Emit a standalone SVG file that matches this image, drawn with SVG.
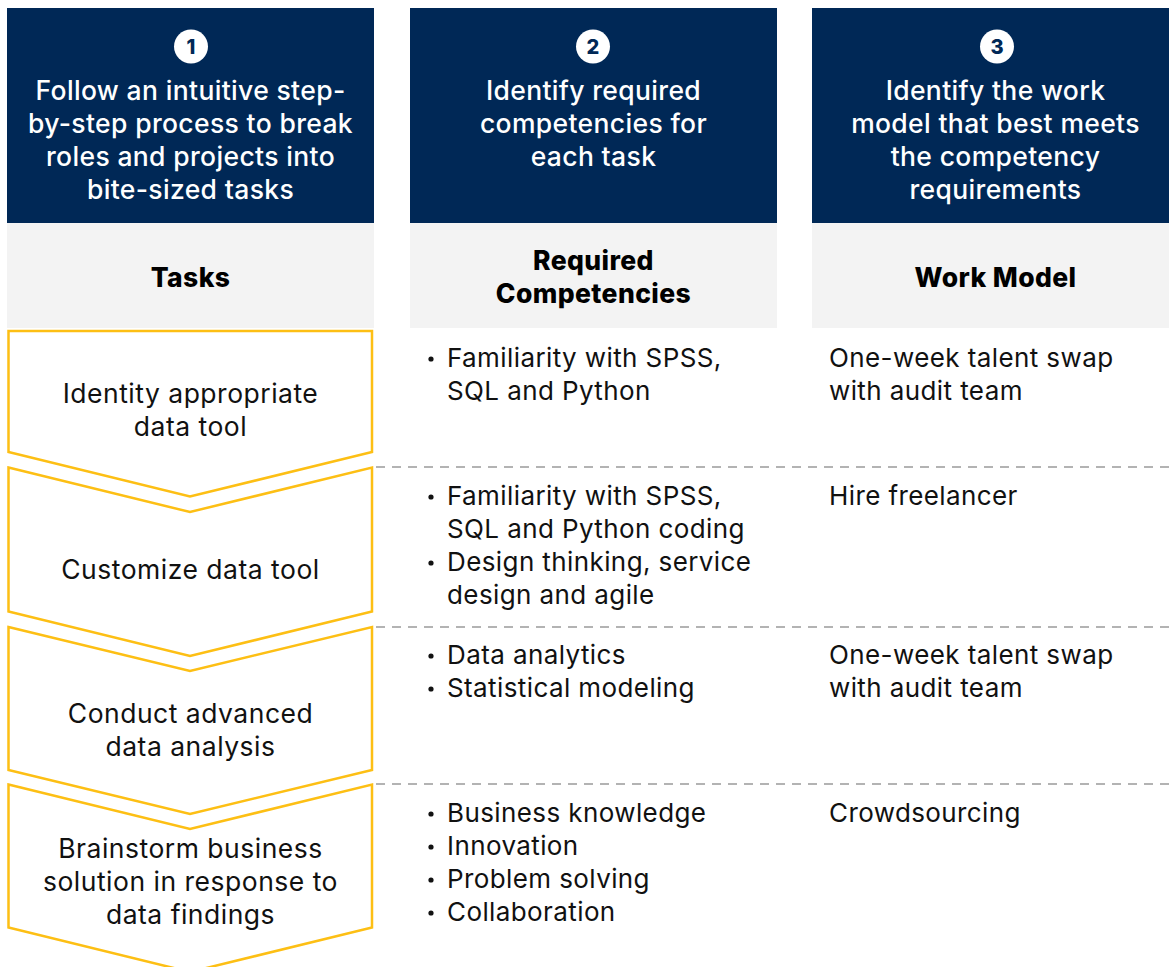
<svg xmlns="http://www.w3.org/2000/svg" width="1169" height="967" viewBox="0 0 1169 967">
  <style>
    .hdr { fill: #002856; }
    .band { fill: #f3f3f3; }
    .num-c { fill: #ffffff; }
    .num-t { font-family: Inter, "Liberation Sans", sans-serif; font-weight: 800; font-size: 20px; fill: #002856; text-anchor: middle; }
    .hdr-t { font-family: Inter, "Liberation Sans", sans-serif; font-weight: 500; font-size: 26.5px; letter-spacing: 0.35px; fill: #ffffff; text-anchor: middle; }
    .band-t { font-family: Inter, "Liberation Sans", sans-serif; font-weight: 800; font-size: 26.5px; letter-spacing: 0.4px; fill: #000000; text-anchor: middle; }
    .chev { fill: #ffffff; stroke: #fdbf14; stroke-width: 2.5; stroke-linejoin: miter; }
    .task-t { font-family: Inter, "Liberation Sans", sans-serif; font-weight: 400; font-size: 26.5px; letter-spacing: 0.5px; fill: #111111; text-anchor: middle; }
    .body-t { font-family: Inter, "Liberation Sans", sans-serif; font-weight: 400; font-size: 26px; letter-spacing: 0.4px; fill: #111111; }
    .bullet { fill: #111111; }
    .sep { stroke: #9a9a9a; stroke-width: 1.5; stroke-dasharray: 9 7; fill: none; }
  </style>
  <defs>
    <circle id="dot" r="2.6" class="bullet"/>
  </defs>

  <rect width="1169" height="967" fill="#ffffff"/>

  <!-- Column 1 header -->
  <g id="col-tasks-header">
    <rect class="hdr" x="7" y="8" width="367" height="215"/>
    <circle class="num-c" cx="191" cy="46.5" r="17"/>
    <text class="num-t" x="191" y="53.5">1</text>
    <text class="hdr-t" x="190.5" y="100">Follow an intuitive step-</text>
    <text class="hdr-t" x="190.5" y="133">by-step process to break</text>
    <text class="hdr-t" x="190.5" y="166">roles and projects into</text>
    <text class="hdr-t" x="190.5" y="199">bite-sized tasks</text>
    <rect class="band" x="7" y="223" width="367" height="105"/>
    <text class="band-t" x="190.5" y="287">Tasks</text>
  </g>

  <!-- Column 2 header -->
  <g id="col-competencies-header">
    <rect class="hdr" x="410" y="8" width="367" height="215"/>
    <circle class="num-c" cx="593" cy="46.5" r="17"/>
    <text class="num-t" x="593" y="53.5">2</text>
    <text class="hdr-t" x="593.5" y="100">Identify required</text>
    <text class="hdr-t" x="593.5" y="133">competencies for</text>
    <text class="hdr-t" x="593.5" y="166">each task</text>
    <rect class="band" x="410" y="223" width="367" height="105"/>
    <text class="band-t" x="593.5" y="270">Required</text>
    <text class="band-t" x="593.5" y="303">Competencies</text>
  </g>

  <!-- Column 3 header -->
  <g id="col-workmodel-header">
    <rect class="hdr" x="812" y="8" width="357" height="215"/>
    <circle class="num-c" cx="997" cy="46.5" r="17"/>
    <text class="num-t" x="997" y="53.5">3</text>
    <text class="hdr-t" x="995.5" y="100">Identify the work</text>
    <text class="hdr-t" x="995.5" y="133">model that best meets</text>
    <text class="hdr-t" x="995.5" y="166">the competency</text>
    <text class="hdr-t" x="995.5" y="199">requirements</text>
    <rect class="band" x="812" y="223" width="357" height="105"/>
    <text class="band-t" x="995.5" y="287">Work Model</text>
  </g>

  <!-- Row separators -->
  <g id="connectors">
    <line class="sep" x1="376" y1="467" x2="1169" y2="467"/>
    <line class="sep" x1="376" y1="627" x2="1169" y2="627"/>
    <line class="sep" x1="376" y1="784" x2="1169" y2="784"/>
  </g>

  <!-- Task chevrons -->
  <g id="task-1">
    <path class="chev" d="M8.5,331 H372 V452 L190,496.5 L8.5,452 Z"/>
    <text class="task-t" x="190.5" y="403">Identity appropriate</text>
    <text class="task-t" x="190.5" y="436">data tool</text>
  </g>
  <g id="task-2">
    <path class="chev" d="M8.5,467.5 L190,512 L372,467.5 V611.5 L190,656 L8.5,611.5 Z"/>
    <text class="task-t" x="190.5" y="579">Customize data tool</text>
  </g>
  <g id="task-3">
    <path class="chev" d="M8.5,627 L190,671 L372,627 V770 L190,814 L8.5,770 Z"/>
    <text class="task-t" x="190.5" y="723">Conduct advanced</text>
    <text class="task-t" x="190.5" y="756">data analysis</text>
  </g>
  <g id="task-4">
    <path class="chev" d="M8.5,784.5 L190,829 L372,784.5 V927.5 L190,972 L8.5,927.5 Z"/>
    <text class="task-t" x="190.5" y="858">Brainstorm business</text>
    <text class="task-t" x="190.5" y="891">solution in response to</text>
    <text class="task-t" x="190.5" y="924">data findings</text>
  </g>

  <!-- Required competencies -->
  <g id="competencies-1">
    <use href="#dot" x="431" y="359"/>
    <text class="body-t" x="447" y="367">Familiarity with SPSS,</text>
    <text class="body-t" x="447" y="400">SQL and Python</text>
  </g>
  <g id="competencies-2">
    <use href="#dot" x="431" y="497"/>
    <text class="body-t" x="447" y="505">Familiarity with SPSS,</text>
    <text class="body-t" x="447" y="538">SQL and Python coding</text>
    <use href="#dot" x="431" y="563"/>
    <text class="body-t" x="447" y="571">Design thinking, service</text>
    <text class="body-t" x="447" y="604">design and agile</text>
  </g>
  <g id="competencies-3">
    <use href="#dot" x="431" y="656"/>
    <text class="body-t" x="447" y="664">Data analytics</text>
    <use href="#dot" x="431" y="689"/>
    <text class="body-t" x="447" y="697">Statistical modeling</text>
  </g>
  <g id="competencies-4">
    <use href="#dot" x="431" y="814"/>
    <text class="body-t" x="447" y="822">Business knowledge</text>
    <use href="#dot" x="431" y="847"/>
    <text class="body-t" x="447" y="855">Innovation</text>
    <use href="#dot" x="431" y="880"/>
    <text class="body-t" x="447" y="888">Problem solving</text>
    <use href="#dot" x="431" y="913"/>
    <text class="body-t" x="447" y="921">Collaboration</text>
  </g>

  <!-- Work models -->
  <g id="workmodel-1">
    <text class="body-t" x="829" y="367">One-week talent swap</text>
    <text class="body-t" x="829" y="400">with audit team</text>
  </g>
  <g id="workmodel-2">
    <text class="body-t" x="829" y="505">Hire freelancer</text>
  </g>
  <g id="workmodel-3">
    <text class="body-t" x="829" y="664">One-week talent swap</text>
    <text class="body-t" x="829" y="697">with audit team</text>
  </g>
  <g id="workmodel-4">
    <text class="body-t" x="829" y="822">Crowdsourcing</text>
  </g>
</svg>
